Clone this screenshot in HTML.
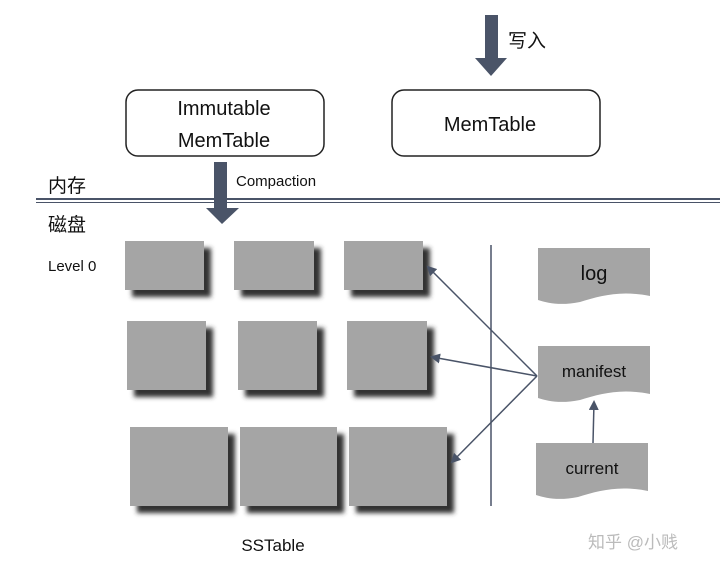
<!DOCTYPE html>
<html><head><meta charset="utf-8"><style>
body{margin:0;background:#fff;}
svg text{font-family:"Liberation Sans","Noto Sans CJK SC",sans-serif;fill:#111;}
</style></head><body>
<svg width="720" height="570" viewBox="0 0 720 570" xmlns="http://www.w3.org/2000/svg">
<defs>
<filter id="sh" x="-20%" y="-20%" width="150%" height="150%"><feGaussianBlur stdDeviation="2.5"/></filter>
<marker id="ah" markerWidth="10" markerHeight="10" refX="8" refY="5" orient="auto" markerUnits="userSpaceOnUse"><path d="M0,0 L10,5 L0,10 z" fill="#4a5468"/></marker>
</defs>
<!-- write arrow -->
<polygon points="485,15 498,15 498,58 507,58 491,76 475,58 485,58" fill="#4a5468"/>
<text x="508" y="47" font-size="19">写入</text>
<!-- boxes -->
<rect x="126" y="90" width="198" height="66" rx="12" fill="#fff" stroke="#222" stroke-width="1.5"/>
<text x="224" y="115" font-size="20" text-anchor="middle">Immutable</text>
<text x="224" y="147" font-size="20" text-anchor="middle">MemTable</text>
<rect x="392" y="90" width="208" height="66" rx="12" fill="#fff" stroke="#222" stroke-width="1.5"/>
<text x="490" y="131" font-size="20" text-anchor="middle">MemTable</text>
<!-- line -->
<rect x="36" y="198" width="684" height="2" fill="#4a5468"/>
<rect x="36" y="202" width="684" height="1" fill="#4a5468"/>
<text x="48" y="192" font-size="19">内存</text>
<text x="48" y="231" font-size="19">磁盘</text>
<polygon points="214,162 227,162 227,208 239,208 222,224 206,208 214,208" fill="#4a5468"/>
<text x="236" y="186" font-size="15">Compaction</text>
<text x="48" y="271" font-size="15">Level 0</text>
<!-- sstables -->
<g fill="#333" filter="url(#sh)">
<rect x="132" y="248" width="79" height="49"/><rect x="241" y="248" width="80" height="49"/><rect x="351" y="248" width="79" height="49"/>
<rect x="134" y="328" width="79" height="69"/><rect x="245" y="328" width="79" height="69"/><rect x="354" y="328" width="80" height="69"/>
<rect x="137" y="434" width="98" height="79"/><rect x="247" y="434" width="97" height="79"/><rect x="356" y="434" width="98" height="79"/>
</g>
<g fill="#a5a5a5">
<rect x="125" y="241" width="79" height="49"/><rect x="234" y="241" width="80" height="49"/><rect x="344" y="241" width="79" height="49"/>
<rect x="127" y="321" width="79" height="69"/><rect x="238" y="321" width="79" height="69"/><rect x="347" y="321" width="80" height="69"/>
<rect x="130" y="427" width="98" height="79"/><rect x="240" y="427" width="97" height="79"/><rect x="349" y="427" width="98" height="79"/>
</g>
<text x="273" y="551" font-size="17" text-anchor="middle">SSTable</text>
<!-- vertical line -->
<line x1="491" y1="245" x2="491" y2="506" stroke="#4a5468" stroke-width="1.5"/>
<!-- docs -->
<g fill="#a5a5a5">
<path d="M538,248 H650 V296 C620,290 600,296 580,302 C560,306 548,303 538,300 Z"/>
<path d="M538,346 H650 V394 C620,388 600,394 580,400 C560,404 548,401 538,398 Z"/>
<path d="M536,443 H648 V491 C618,485 598,491 578,497 C558,501 546,498 536,495 Z"/>
</g>
<text x="594" y="280" font-size="20" text-anchor="middle">log</text>
<text x="594" y="377" font-size="17" text-anchor="middle">manifest</text>
<text x="592" y="474" font-size="17" text-anchor="middle">current</text>
<!-- connectors -->
<g stroke="#4a5468" stroke-width="1.5" fill="none" marker-end="url(#ah)">
<line x1="537" y1="376" x2="428" y2="267"/>
<line x1="537" y1="376" x2="432" y2="357"/>
<line x1="537" y1="376" x2="452" y2="462"/>
<line x1="593" y1="443" x2="594" y2="402"/>
</g>
<text x="588" y="548" font-size="17" style="fill:#bbb">知乎 @小贱</text>
</svg>
</body></html>
